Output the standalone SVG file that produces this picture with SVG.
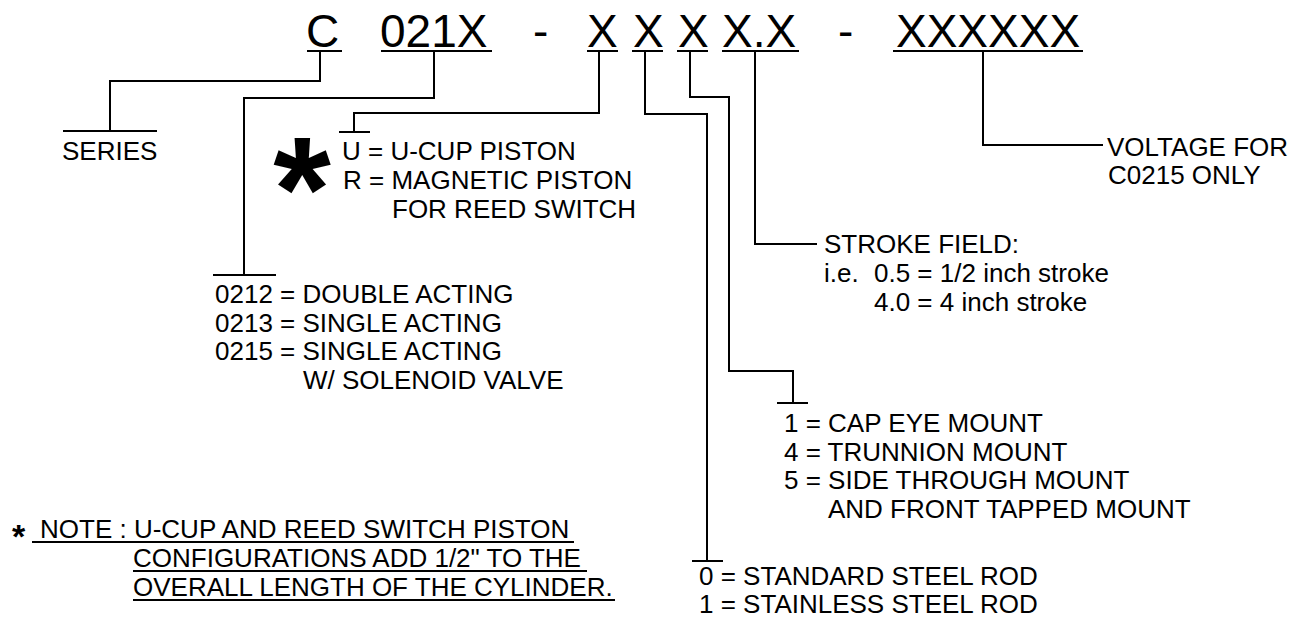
<svg xmlns="http://www.w3.org/2000/svg" width="1309" height="618" viewBox="0 0 1309 618">
<style>
.t{font-family:"Liberation Sans",Arial,Helvetica,sans-serif;font-size:26px;fill:#000}
.code{font-size:46px}
.b{font-weight:bold}
.big{font-size:148px}
.sm{font-size:34px}
.ln{stroke:#000;stroke-width:2;fill:none;stroke-linejoin:miter}
.ul{stroke:#000;stroke-width:2;fill:none}
</style>
<rect x="0" y="0" width="1309" height="618" fill="#fff"/>
<g id="code">
<text class="t code" x="306" y="47">C</text>
<text class="t code" x="380" y="47">021X</text>
<text class="t code" x="533" y="47">-</text>
<text class="t code" x="587" y="47">X</text>
<text class="t code" x="633" y="47">X</text>
<text class="t code" x="678" y="47">X</text>
<text class="t code" x="722" y="47">X.X</text>
<text class="t code" x="838" y="47">-</text>
<text class="t code" x="896" y="47">XXXXXX</text>
<line class="ul" x1="307" y1="51" x2="342" y2="51"/>
<line class="ul" x1="381" y1="51" x2="492" y2="51"/>
<line class="ul" x1="587" y1="51" x2="618" y2="51"/>
<line class="ul" x1="632" y1="51" x2="663" y2="51"/>
<line class="ul" x1="677" y1="51" x2="708" y2="51"/>
<line class="ul" x1="722" y1="51" x2="799" y2="51"/>
<line class="ul" x1="893" y1="51" x2="1083" y2="51"/>
</g>
<g id="connectors">
<polyline class="ln" points="320,51 320,81 110,81 110,131"/>
<line class="ln" x1="63" y1="131" x2="157" y2="131"/>
<polyline class="ln" points="434,51 434,98 244,98 244,275"/>
<line class="ln" x1="213" y1="275" x2="276" y2="275"/>
<polyline class="ln" points="599,51 599,113 354,113 354,132"/>
<line class="ln" x1="339" y1="132" x2="370" y2="132"/>
<polyline class="ln" points="645,51 645,114 707,114 707,561"/>
<line class="ln" x1="692" y1="561" x2="723" y2="561"/>
<polyline class="ln" points="690,51 690,97 729,97 729,371 793,371 793,403"/>
<line class="ln" x1="777" y1="403" x2="808" y2="403"/>
<polyline class="ln" points="755,51 755,244 817,244"/>
<polyline class="ln" points="983,51 983,145 1103,145"/>
</g>
<g id="series">
<text class="t" x="62" y="160">SERIES</text>
</g>
<g id="piston">
<text class="t b big" x="302" y="240" text-anchor="middle">*</text>
<text class="t" x="342" y="160">U = U-CUP PISTON</text>
<text class="t" x="343" y="189">R = MAGNETIC PISTON</text>
<text class="t" x="392" y="218">FOR REED SWITCH</text>
</g>
<g id="type">
<text class="t" x="215" y="303">0212 = DOUBLE ACTING</text>
<text class="t" x="215" y="331.5">0213 = SINGLE ACTING</text>
<text class="t" x="215" y="360">0215 = SINGLE ACTING</text>
<text class="t" x="303" y="389">W/ SOLENOID VALVE</text>
</g>
<g id="stroke">
<text class="t" x="824" y="253">STROKE FIELD:</text>
<text class="t" x="824" y="282">i.e.</text>
<text class="t" x="874" y="282">0.5 = 1/2 inch stroke</text>
<text class="t" x="874" y="311">4.0 = 4 inch stroke</text>
</g>
<g id="mount">
<text class="t" x="784" y="432">1 = CAP EYE MOUNT</text>
<text class="t" x="784" y="461">4 = TRUNNION MOUNT</text>
<text class="t" x="784" y="489">5 = SIDE THROUGH MOUNT</text>
<text class="t" x="828" y="518">AND FRONT TAPPED MOUNT</text>
</g>
<g id="rod">
<text class="t" x="699" y="584.5">0 = STANDARD STEEL ROD</text>
<text class="t" x="699" y="613">1 = STAINLESS STEEL ROD</text>
</g>
<g id="voltage">
<text class="t" x="1107" y="156">VOLTAGE FOR</text>
<text class="t" x="1108" y="184">C0215 ONLY</text>
</g>
<g id="note">
<text class="t b sm" x="12" y="548">*</text>
<text class="t" x="40" y="538">NOTE : U-CUP AND REED SWITCH PISTON</text>
<text class="t" x="133" y="567">CONFIGURATIONS ADD 1/2" TO THE</text>
<text class="t" x="133" y="596">OVERALL LENGTH OF THE CYLINDER.</text>
<line class="ul" x1="32" y1="542" x2="574" y2="542"/>
<line class="ul" x1="133" y1="571" x2="587" y2="571"/>
<line class="ul" x1="133" y1="600" x2="615" y2="600"/>
</g>
</svg>
